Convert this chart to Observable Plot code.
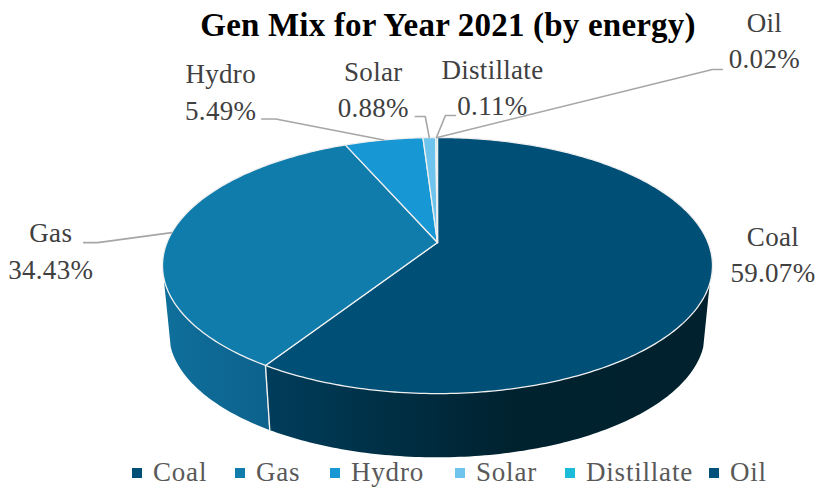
<!DOCTYPE html>
<html>
<head>
<meta charset="utf-8">
<script src="https://cdn.jsdelivr.net/npm/d3@7"></script>
<script src="https://cdn.jsdelivr.net/npm/@observablehq/plot@0.6"></script>
<style>
  html, body { margin: 0; padding: 0; background: #fff; }
  #chart { position: relative; width: 815px; height: 488px; overflow: hidden;
           font-family: "Liberation Serif", serif; }
  #title { position: absolute; left: 0; top: 6px; width: 896px; text-align: center;
           font-size: 33px; font-weight: bold; color: #000; line-height: 38px; z-index: 2; letter-spacing: 0.2px; }
  #legend { position: absolute; top: 456px; left: 0; height: 32px; width: 815px; color: #595959;
            font-size: 27px; letter-spacing: 0.8px; }
  #legend span.item { position: absolute; top: 1px; line-height: 30px; white-space: nowrap; }
  #legend i { display: inline-block; width: 10px; height: 10px; margin-right: 11px; vertical-align: 3px; }
  #plot text { letter-spacing: 0.3px; }
</style>
</head>
<body>
<div id="chart">
  <div id="title">Gen Mix for Year 2021 (by energy)</div>
  <div id="plot"></div>
  <div id="legend"></div>
</div>
<script>
const sources = ["Coal", "Gas", "Hydro", "Solar", "Distillate", "Oil"];
const shares = [59.07, 34.43, 5.49, 0.88, 0.11, 0.02];
const colors = ["#004f76", "#0f7cac", "#1797d3", "#6ec4ec", "#1cbcd8", "#00527a"];

// Placement of each callout, relative to its slice's rim midpoint, and the leader elbow.
const labelOffsets = [[62, -27], [-121, 16], [-163, -50], [-56, -50], [56, -52], [327, -99]];
const elbowOffsets = [null, [-74, 10], [-108, -21], [-4, -21], [9, -22], [275, -68]];
const legendLefts = [132, 235, 330, 455, 565, 709];

// Perspective of the disc: apex position, semi-axes, foreshortening and the drop to the lower rim.
const view = {cx: 437, cy: 242, a: 270.5, b: 123.9, p: 0.18, drop: 68, shrink: 0.975};

const rim = (fraction, lower = false) => {
  const t = fraction * 2 * Math.PI;
  const u = Math.sin(t), w = -Math.cos(t), d = 1 - view.p * w;
  const k = lower ? view.shrink : 1;
  return {x: view.cx + k * view.a * u / d, y: view.cy + (lower ? view.drop : 0) + k * view.b * w / d};
};

let acc = 0;
const slices = sources.map((name, i) => {
  const start = acc / 100;
  acc += shares[i];
  return {name, value: shares[i], start, end: acc / 100, mid: (start + acc / 100) / 2};
});

const sample = (f0, f1) => {
  const n = Math.max(2, Math.ceil((f1 - f0) * 400));
  return d3.range(n + 1).map(i => f0 + (f1 - f0) * i / n);
};

const faces = slices.flatMap(s => [
  {name: s.name, x: view.cx, y: view.cy},
  ...sample(s.start, s.end).map(f => ({name: s.name, ...rim(f)})),
  {name: s.name, x: view.cx, y: view.cy}
]);

const wall = (f0, f1) => sample(f0, f1).map(f => {
  const top = rim(f), low = rim(f, true);
  return {x1: top.x, y1: top.y, x2: low.x, y2: low.y};
});
const coalEnd = slices[0].end;
const coalWall = wall(0.297, coalEnd);
const gasWall = wall(coalEnd, 0.703);
const seamTop = rim(coalEnd), seamLow = rim(coalEnd, true);

const callouts = slices.map((s, i) => {
  const p = rim(s.mid);
  return {
    text: `${s.name}\n${s.value.toFixed(2)}%`,
    x: p.x + labelOffsets[i][0], y: p.y + labelOffsets[i][1]
  };
});

const leaders = slices.flatMap((s, i) => {
  if (!elbowOffsets[i]) return [];
  const p = rim(s.mid);
  const e = {x: p.x + elbowOffsets[i][0], y: p.y + elbowOffsets[i][1]};
  const tail = i === 1 || i === 2 ? -14 : i === 3 ? -10 : 10;
  return [
    {name: s.name, x: p.x, y: p.y},
    {name: s.name, ...e},
    {name: s.name, x: e.x + tail, y: e.y}
  ];
});

const gradient = (id, stops) => {
  const ns = "http://www.w3.org/2000/svg";
  const g = document.createElementNS(ns, "linearGradient");
  g.setAttribute("id", id);
  stops.forEach(([o, c]) => {
    const st = document.createElementNS(ns, "stop");
    st.setAttribute("offset", o);
    st.setAttribute("stop-color", c);
    g.appendChild(st);
  });
  return g;
};
const defs = () => {
  const d = document.createElementNS("http://www.w3.org/2000/svg", "defs");
  d.appendChild(gradient("coalSide", [[0, "#003d5b"], [0.55, "#00222f"], [1, "#00212d"]]));
  d.appendChild(gradient("gasSide", [[0, "#0f6f9b"], [1, "#0c628c"]]));
  return d;
};

const chart = Plot.plot({
  width: 815,
  height: 456,
  margin: 0,
  x: {domain: [0, 815], range: [0, 815], axis: null},
  y: {domain: [0, 456], range: [0, 456], axis: null},
  color: {domain: sources, range: colors},
  style: {background: "transparent", overflow: "visible"},
  marks: [
    defs,
    Plot.area(coalWall, {x1: "x1", y1: "y1", x2: "x2", y2: "y2", fill: "url(#coalSide)"}),
    Plot.area(gasWall, {x1: "x1", y1: "y1", x2: "x2", y2: "y2", fill: "url(#gasSide)"}),
    Plot.link([{x1: seamTop.x, y1: seamTop.y, x2: seamLow.x, y2: seamLow.y}],
      {x1: "x1", y1: "y1", x2: "x2", y2: "y2", stroke: "#f0f0f0", strokeWidth: 1.4}),
    Plot.line(faces, {x: "x", y: "y", z: "name", fill: "name", stroke: "#f0f0f0", strokeWidth: 1.3}),
    Plot.line(leaders, {x: "x", y: "y", z: "name", stroke: "#a6a6a6", strokeWidth: 1.6}),
    Plot.text(callouts, {
      x: "x", y: "y", text: "text", fill: "#404040", fontSize: 27,
      lineHeight: 1.35, lineAnchor: "middle",
      fontFamily: '"Liberation Serif", serif'
    })
  ]
});
document.getElementById("plot").appendChild(chart);

const legend = document.getElementById("legend");
sources.forEach((name, i) => {
  const item = document.createElement("span");
  item.className = "item";
  item.style.left = legendLefts[i] + "px";
  const swatch = document.createElement("i");
  swatch.style.background = colors[i];
  item.appendChild(swatch);
  item.appendChild(document.createTextNode(name));
  legend.appendChild(item);
});
</script>
</body>
</html>
